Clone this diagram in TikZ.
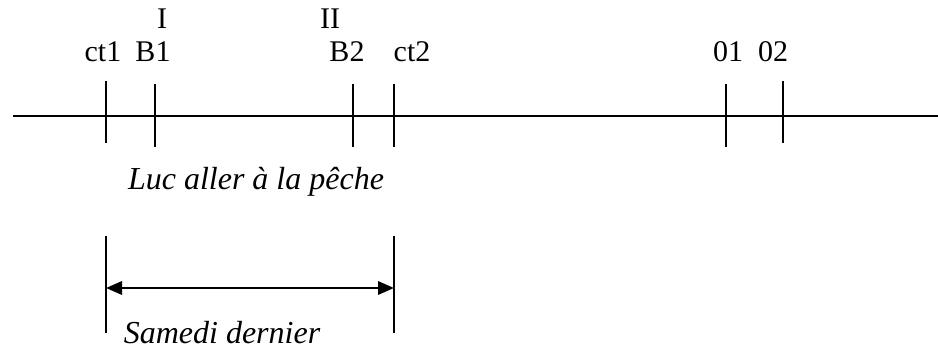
\documentclass[tikz,border=0pt]{standalone}
\usepackage{fontspec}
\setmainfont{Liberation Serif}
\usetikzlibrary{arrows.meta}

\tikzset{
  etiq/.style={font=\fontsize{22.5}{26}\selectfont, inner sep=0pt, anchor=base},
  phrase/.style={font=\fontsize{24}{28}\selectfont\itshape, inner sep=0pt, anchor=base},
  marque/.style={line width=1.5pt},
}

\begin{document}
\begin{tikzpicture}[x=0.75pt, y=-0.75pt]
        \useasboundingbox (0,0) rectangle (938,349);

        % axe du temps
        \coordinate (debut) at (13,116);
        \coordinate (fin) at (938,116);
        \draw[line width=1.6pt] (debut) -- (fin);

        % marques sur l'axe
        \draw[marque] (106,81) -- (106,143);
        \draw[marque] (155,84) -- (155,147);
        \draw[marque] (353,84) -- (353,147);
        \draw[marque] (394,84) -- (394,147);
        \draw[marque] (726,84) -- (726,147);
        \draw[marque] (783,81) -- (783,143);

        % etiquettes des marques
        \node[etiq] (ct1) at (103,62) {ct1};
        \node[etiq] (B1) at (153,62) {B1};
        \node[etiq] (B2) at (347,62) {B2};
        \node[etiq] (ct2) at (412,62) {ct2};
        \node[etiq] (o1) at (728,62) {01};
        \node[etiq] (o2) at (773,62) {02};
        \node[etiq] (I) at (162,29) {I};
        \node[etiq] (II) at (330,29) {II};

        % evenement
        \node[phrase] (peche) at (256,190) {Luc aller à la pêche};

        % intervalle du samedi
        \coordinate (sg) at (106,288);
        \coordinate (sd) at (394,288);
        \draw[line width=1.1pt] (106,236) -- (106,333);
        \draw[line width=1.1pt] (394,236) -- (394,333);
        \draw[line width=1.8pt, {Triangle[length=12pt,width=10pt]}-{Triangle[length=12pt,width=10pt]}] (sg) -- (sd);
        \node[phrase] (samedi) at (222,343) {Samedi dernier};
\end{tikzpicture}
\end{document}
